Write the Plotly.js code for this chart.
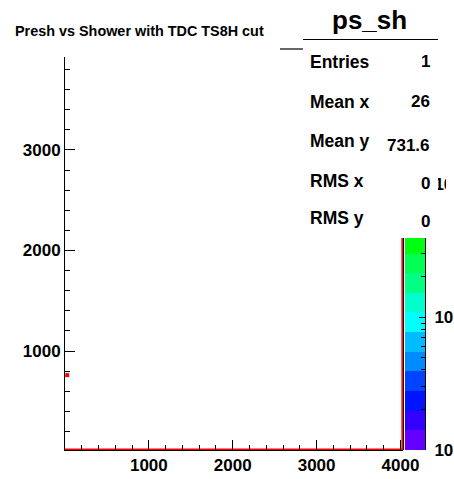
<!DOCTYPE html>
<html><head><meta charset="utf-8">
<script src="https://cdn.plot.ly/plotly-3.0.1.min.js"></script>
<style>html,body{margin:0;padding:0;background:#fff;}#chart{width:454px;height:479px;}</style>
</head><body><div id="chart"></div>
<script>
// ---- data ----
const pointX = [26];
const pointY = [760];
const edgeX = [0, 4020, 4020];
const edgeY = [22, 22, 3925];
const xTickVals = [1000, 2000, 3000, 4000];
const xTickText = ['1000', '2000', '3000', '4000'];
const yTickVals = [1000, 2000, 3000];
const yTickText = ['1000', '2000', '3000'];
const paletteLevels = [0,1,2,3,4,5,6,7,8,9,10,11,12,13,14,15,16,17,18,19];
const paletteColors = ['#6300ff','#3300ff','#0014ff','#0044ff','#008bff','#00bbff','#00fffc','#00ffcc','#00ff85','#00ff55',
                       '#00ff0e','#22ff00','#69ff00','#99ff00','#e0ff00','#ffee00','#ffa700','#ff7700','#ff3000','#ff0000'];
const zDecades = [0, 1, 2];
const zTickText = ['10', '10', '10'];
const minorMult = [2, 3, 4, 5, 6, 7, 8, 9];
const histName = 'ps_sh';
const statsNames = ['Entries', 'Mean x', 'Mean y', 'RMS x', 'RMS y'];
const statsValues = ['1', '26', '731.6', '0', '0'];
const titleText = 'Presh vs Shower with TDC TS8H cut';

// ---- layout helpers ----
const W = 454, H = 479;
const px = v => v / W;
const py = v => 1 - v / H;
const F = 'Liberation Sans, Arial, sans-serif';
const zTop = 2.955;

const nBands = paletteLevels.length;
const cs = [];
paletteColors.forEach((c, i) => { cs.push([i / nBands, c]); cs.push([(i + 1) / nBands, c]); });

const minorVals = [];
zDecades.forEach(d => minorMult.forEach(m => { const v = d + Math.log10(m); if (v < zTop) minorVals.push(v); }));

const traces = [
  { type: 'scatter', x: edgeX, y: edgeY, mode: 'lines', line: { color: '#ff0000', width: 1.6 },
    xaxis: 'x', yaxis: 'y', hoverinfo: 'skip', cliponaxis: true },
  { type: 'scatter', x: pointX, y: pointY, mode: 'markers',
    marker: { symbol: 'square', size: 4, color: '#ff0000', line: { width: 0 } },
    xaxis: 'x', yaxis: 'y', hoverinfo: 'skip', cliponaxis: true },
  { type: 'heatmap', z: paletteLevels.map(v => [v]), x0: 0, dx: 1, y0: zTop / (2 * nBands), dy: zTop / nBands,
    zmin: -0.5, zmax: nBands - 0.5, colorscale: cs, showscale: false, xaxis: 'x2', yaxis: 'y2', hoverinfo: 'skip' }
];

const tickFont = { family: F, size: 17, weight: 'bold', color: '#000' };
const nameRows = [62, 102, 141, 181, 218];
const valueRows = [62, 102, 145, 183, 221];
const annotations = [
  { text: histName, x: px(369), y: py(20), xref: 'paper', yref: 'paper', xanchor: 'center', yanchor: 'middle',
    showarrow: false, font: { family: F, size: 26, weight: 'bold', color: '#000' } }
];
statsNames.forEach((n, i) => annotations.push({ text: n, x: px(308), y: py(nameRows[i]), xref: 'paper', yref: 'paper',
  xanchor: 'left', yanchor: 'middle', showarrow: false, font: { family: F, size: 17.5, weight: 'bold', color: '#000' } }));
statsValues.forEach((v, i) => annotations.push({ text: v, x: px(432), y: py(valueRows[i]), xref: 'paper', yref: 'paper',
  xanchor: 'right', yanchor: 'middle', showarrow: false, font: { family: F, size: 17, weight: 'bold', color: '#000' } }));

const shapes = [
  { type: 'line', xref: 'paper', yref: 'paper', x0: px(403.5), x1: px(403.5), y0: py(57), y1: py(450), line: { color: '#000', width: 1 }, layer: 'above' },
  { type: 'rect', xref: 'paper', yref: 'paper', x0: px(303), x1: px(438), y0: py(238), y1: py(39), fillcolor: '#fff', line: { width: 0 }, layer: 'above' },
  { type: 'rect', xref: 'paper', yref: 'paper', x0: px(446), x1: px(454), y0: py(197), y1: py(172), fillcolor: '#fff', line: { width: 0 }, layer: 'above' },
  { type: 'line', xref: 'paper', yref: 'paper', x0: px(303), x1: px(438), y0: py(39.5), y1: py(39.5), line: { color: '#000', width: 1.2 }, layer: 'above' },
  { type: 'line', xref: 'paper', yref: 'paper', x0: px(280), x1: px(303), y0: py(49), y1: py(49), line: { color: '#000', width: 1.2 }, layer: 'above' }
];

const layout = {
  width: W, height: H, margin: { l: 0, r: 0, t: 0, b: 0 }, paper_bgcolor: '#fff', plot_bgcolor: 'rgba(0,0,0,0)',
  showlegend: false,
  title: { text: titleText, font: { family: F, size: 14.4, weight: 'bold', color: '#000' },
           xref: 'container', yref: 'container', x: px(15), xanchor: 'left', y: py(31), yanchor: 'middle' },
  xaxis: { domain: [px(65), px(403)], range: [0, 4030], anchor: 'y', showgrid: false, zeroline: false,
           showline: true, linecolor: '#000', linewidth: 1, ticks: 'inside', ticklen: 10, tickwidth: 1, tickcolor: '#000',
           tickmode: 'array', tickvals: xTickVals, ticktext: xTickText, tickfont: tickFont, automargin: false,
           minor: { tickmode: 'linear', tick0: 0, dtick: 200, ticks: 'inside', ticklen: 5, tickwidth: 1, tickcolor: '#000', showgrid: false } },
  yaxis: { domain: [py(450), py(57)], range: [15, 3925], anchor: 'x', showgrid: false, zeroline: false,
           showline: true, linecolor: '#000', linewidth: 1, ticks: 'inside', ticklen: 10, tickwidth: 1, tickcolor: '#000',
           tickmode: 'array', tickvals: yTickVals, ticktext: yTickText, tickfont: tickFont, automargin: false,
           minor: { tickmode: 'linear', tick0: 0, dtick: 200, ticks: 'inside', ticklen: 5, tickwidth: 1, tickcolor: '#000', showgrid: false } },
  xaxis2: { domain: [px(405), px(425)], range: [-0.5, 0.5], anchor: 'y2', visible: false, fixedrange: true },
  yaxis2: { domain: [py(450), py(57)], range: [0, zTop], anchor: 'x2', side: 'right', showgrid: false, zeroline: false,
            showline: true, linecolor: '#000', linewidth: 1, ticks: 'inside', ticklen: 6, tickwidth: 1, tickcolor: '#000',
            tickmode: 'array', tickvals: zDecades, ticktext: zTickText, tickfont: tickFont, automargin: false, ticklabelstandoff: 5,
            minor: { tickmode: 'array', tickvals: minorVals, ticks: 'inside', ticklen: 4, tickwidth: 1, tickcolor: '#000', showgrid: false } },
  shapes: shapes,
  annotations: annotations
};

Plotly.newPlot('chart', traces, layout, { staticPlot: true, displayModeBar: false });
</script></body></html>
